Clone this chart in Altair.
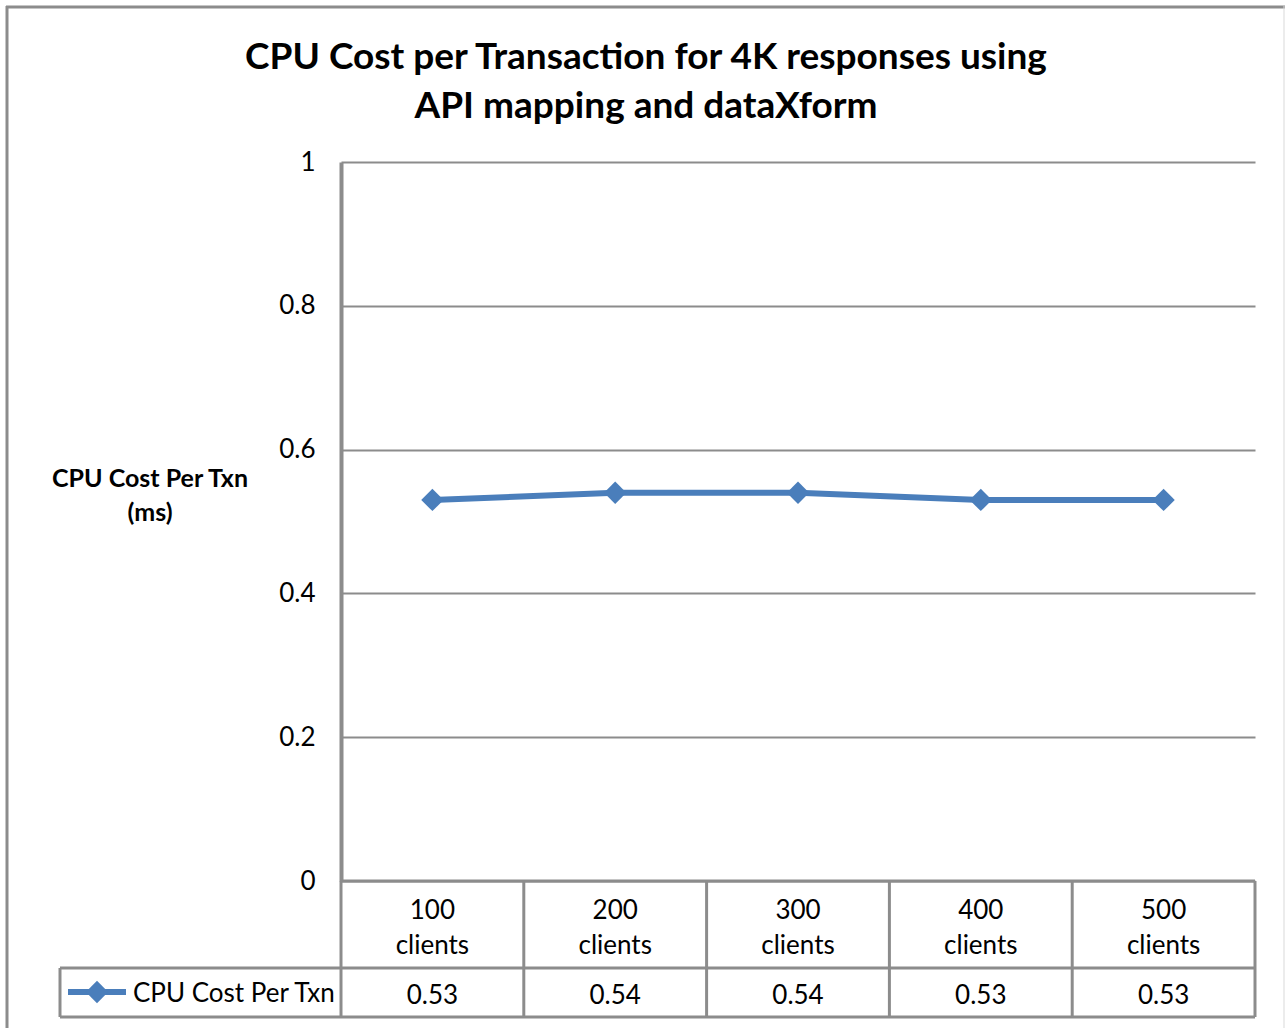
import altair as alt
import pandas as pd

# ---- data ----
categories = ["100 clients", "200 clients", "300 clients", "400 clients", "500 clients"]
values = [0.53, 0.54, 0.54, 0.53, 0.53]
value_labels = ["0.53", "0.54", "0.54", "0.53", "0.53"]
series_name = "CPU Cost Per Txn"
title_lines = ["CPU Cost per Transaction for 4K responses using", "API mapping and dataXform"]
y_title_lines = ["CPU Cost Per Txn", "(ms)"]
y_ticks = [0, 0.2, 0.4, 0.6, 0.8, 1]

FONT = "Lato"
BLUE = "#4A7EBB"
GRAY = "#8C8C8C"
W, H = 914, 719
FS = 26

df = pd.DataFrame({
    "cat": categories,
    "pos": [i + 0.5 for i in range(len(categories))],
    "value": values,
    "label": value_labels,
})
bounds = pd.DataFrame({"b": list(range(len(categories) + 1))})

xscale = alt.Scale(domain=[0, len(categories)], nice=False, zero=False)
yscale = alt.Scale(domain=[0, 1], nice=False)

base = alt.Chart(df)

line = base.mark_line(color=BLUE, strokeWidth=6).encode(
    x=alt.X("pos:Q", scale=xscale, axis=None),
    y=alt.Y("value:Q", scale=yscale, axis=alt.Axis(
        values=y_ticks, format="~g", title=None, grid=True, gridColor=GRAY, gridWidth=2,
        domainColor=GRAY, domainWidth=4, ticks=False, labelPadding=26,
        labelFont=FONT, labelFontSize=FS, labelColor="#000")),
)
points = base.mark_point(shape="diamond", filled=True, size=500, color=BLUE, opacity=1).encode(
    x=alt.X("pos:Q", scale=xscale), y=alt.Y("value:Q", scale=yscale)
)

# data table: category labels (two lines) and values
cat_text = base.mark_text(font=FONT, fontSize=FS, color="#000", lineBreak=" ",
                          lineHeight=35, baseline="alphabetic", align="center").encode(
    x=alt.X("pos:Q", scale=xscale), y=alt.value(757), text="cat:N")
val_text = base.mark_text(font=FONT, fontSize=FS, color="#000", baseline="alphabetic",
                          align="center").encode(
    x=alt.X("pos:Q", scale=xscale), y=alt.value(842), text="label:N")

vrules = alt.Chart(bounds).mark_rule(color=GRAY, strokeWidth=3).encode(
    x=alt.X("b:Q", scale=xscale), y=alt.value(H), y2=alt.value(855))

frame_df = pd.DataFrame({"k": [0]})
fr = alt.Chart(frame_df)
hrule1 = fr.mark_rule(color=GRAY, strokeWidth=3).encode(
    x=alt.value(-281), x2=alt.value(W), y=alt.value(806))
hrule2 = fr.mark_rule(color=GRAY, strokeWidth=3).encode(
    x=alt.value(-281), x2=alt.value(W), y=alt.value(855))
vrule_leg = fr.mark_rule(color=GRAY, strokeWidth=3).encode(
    x=alt.value(-281), y=alt.value(806), y2=alt.value(855))
xaxis_line = fr.mark_rule(color=GRAY, strokeWidth=3).encode(
    x=alt.value(0), x2=alt.value(W), y=alt.value(H))

# legend key inside the table
leg_line = fr.mark_rule(color=BLUE, strokeWidth=6).encode(
    x=alt.value(-273), x2=alt.value(-215), y=alt.value(830))
leg_pt = fr.mark_point(shape="diamond", filled=True, size=500, color=BLUE, opacity=1).encode(
    x=alt.value(-244), y=alt.value(830))
leg_txt = alt.Chart(pd.DataFrame({"t": [series_name]})).mark_text(
    font=FONT, fontSize=FS, color="#000", align="left", baseline="alphabetic").encode(
    x=alt.value(-208), y=alt.value(840), text="t:N")

# outer chart border
border_top = fr.mark_rule(color=GRAY, strokeWidth=3).encode(
    x=alt.value(-335), x2=alt.value(944), y=alt.value(-155))
border_left = fr.mark_rule(color=GRAY, strokeWidth=3).encode(
    x=alt.value(-334), y=alt.value(-156), y2=alt.value(880))
border_right = fr.mark_rule(color="#D9D9D9", strokeWidth=1).encode(
    x=alt.value(943), y=alt.value(-156), y2=alt.value(880))

# title and y title
t1 = alt.Chart(pd.DataFrame({"t": [title_lines[0]]})).mark_text(
    font=FONT, fontSize=37, fontWeight="bold", color="#000", align="center", baseline="alphabetic").encode(
    x=alt.value(305), y=alt.value(-93), text="t:N")
t2 = alt.Chart(pd.DataFrame({"t": [title_lines[1]]})).mark_text(
    font=FONT, fontSize=37, fontWeight="bold", color="#000", align="center", baseline="alphabetic").encode(
    x=alt.value(305), y=alt.value(-44), text="t:N")
yt1 = alt.Chart(pd.DataFrame({"t": [y_title_lines[0]]})).mark_text(
    font=FONT, fontSize=25, fontWeight="bold", color="#000", align="center", baseline="alphabetic").encode(
    x=alt.value(-191), y=alt.value(325), text="t:N")
yt2 = alt.Chart(pd.DataFrame({"t": [y_title_lines[1]]})).mark_text(
    font=FONT, fontSize=25, fontWeight="bold", color="#000", align="center", baseline="alphabetic").encode(
    x=alt.value(-191), y=alt.value(359), text="t:N")

chart = alt.layer(
    line, vrules, hrule1, hrule2, vrule_leg, xaxis_line,
    border_top, border_left, border_right,
    points, cat_text, val_text, leg_line, leg_pt, leg_txt, t1, t2, yt1, yt2,
).properties(
    width=W, height=H,
    autosize=alt.AutoSizeParams(type="none"),
    padding={"left": 341, "top": 162, "right": 31, "bottom": 147},
    background="white",
).configure_view(strokeWidth=0)

chart.save("out.html", embed_options={"renderer": "svg", "actions": False})
